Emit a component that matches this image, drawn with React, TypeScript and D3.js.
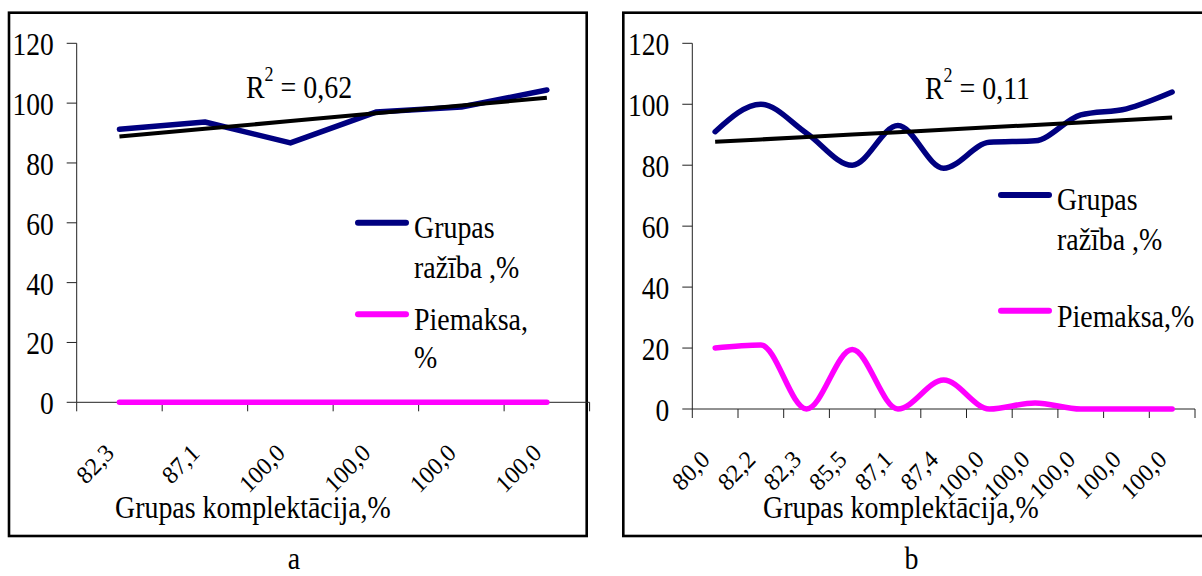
import React from 'react';
import * as d3 from 'd3';

// panel a
const catsA = ['82,3', '87,1', '100,0', '100,0', '100,0', '100,0'];
const yieldA = [91.3, 93.7, 86.7, 97, 98.7, 104.4];
const bonusA = [0, 0, 0, 0, 0, 0];

// panel b
const catsB = ['80,0', '82,2', '82,3', '85,5', '87,1', '87,4', '100,0', '100,0', '100,0', '100,0', '100,0'];
const yieldB = [91, 100, 90.5, 80, 93, 79, 87.5, 88, 96.5, 98.5, 104];
const bonusB = [20, 21, 0, 19.5, 0, 9.5, 0, 2, 0, 0, 0];

const yTicks = [0, 20, 40, 60, 80, 100, 120];
const xTitle = 'Grupas komplektācija,%';

const FONT = '"Liberation Serif", "Times New Roman", serif';
const BLUE = '#000080';
const MAGENTA = '#ff00ff';

const T = ({ x, y, size = 31, sx = 0.9, anchor = 'start', rotate = 0, children }: any) => (
  <text
    transform={`translate(${x},${y}) scale(${sx},1)${rotate ? ` rotate(${rotate})` : ''}`}
    fontSize={size}
    fontFamily={FONT}
    textAnchor={anchor}
    fill="#000"
  >
    {children}
  </text>
);

// least squares on category index, like Excel's linear trendline
function trend(vals: number[]) {
  const xs = vals.map((_, i) => i);
  const mx = d3.mean(xs)!, my = d3.mean(vals)!;
  const sxy = d3.sum(vals, (v, i) => (i - mx) * (v - my));
  const sxx = d3.sum(xs, (i) => (i - mx) ** 2);
  const slope = sxy / sxx;
  const b = my - slope * mx;
  const fit = xs.map((i) => b + slope * i);
  const ssr = d3.sum(fit, (f) => (f - my) ** 2);
  const sst = d3.sum(vals, (v) => (v - my) ** 2);
  return { fit, r2: ssr / sst };
}

function Panel({ p }: any) {
  const n = p.cats.length;
  const x = d3.scaleBand<number>().domain(d3.range(n)).range([p.x0, p.x1]);
  const y = d3.scaleLinear().domain([0, 120]).range([p.yBot, p.yTop]);
  const cx = (i: number) => x(i)! + x.bandwidth() / 2;

  const line = d3.line<number>()
    .x((_, i) => cx(i))
    .y((d) => y(d))
    .curve(p.smooth ? d3.curveMonotoneX : d3.curveLinear);

  const tr = trend(p.yieldV);
  const r2 = d3.format('.2f')(tr.r2).replace('.', ',');
  const trendLine = d3.line<number>().x((_, i) => cx(i)).y((d) => y(d));

  const tickXs = d3.range(n + 1).map((i) => p.x0 + i * x.bandwidth());

  return (
    <g>
      <rect x={p.fx0} y={p.fy0} width={p.fx1 - p.fx0} height={p.fy1 - p.fy0}
        fill="none" stroke="#000" strokeWidth={2.6} />

      {/* y axis */}
      <line x1={p.x0} x2={p.x0} y1={y(120)} y2={y(0)} stroke="#222" strokeWidth={1} />
      {yTicks.map((t) => (
        <g key={t}>
          <line x1={p.x0 - 10} x2={p.x0} y1={y(t)} y2={y(t)} stroke="#222" strokeWidth={1} />
          <T x={p.x0 - 23} y={y(t) + 12} size={32} sx={0.86} anchor="end">{t}</T>
        </g>
      ))}

      {/* x axis */}
      <line x1={p.x0} x2={p.x1} y1={y(0)} y2={y(0)} stroke="#222" strokeWidth={1} />
      {tickXs.map((tx, i) => (
        <line key={i} x1={tx} x2={tx} y1={y(0)} y2={y(0) + 9} stroke="#222" strokeWidth={1} />
      ))}
      {p.cats.map((c: string, i: number) => (
        <T key={i} x={cx(i) - 4} y={y(0) + 52} size={25} sx={0.95} anchor="end" rotate={-45}>{c}</T>
      ))}
      <T x={p.titleX} y={518}>{xTitle}</T>

      {/* series */}
      <path d={line(p.bonusV)!} fill="none" stroke={MAGENTA} strokeWidth={5.5}
        strokeLinecap="round" strokeLinejoin="round" />
      <path d={line(p.yieldV)!} fill="none" stroke={BLUE} strokeWidth={5.5}
        strokeLinecap="round" strokeLinejoin="round" />
      <path d={trendLine(tr.fit)!} fill="none" stroke="#000" strokeWidth={4} />

      {/* R squared */}
      <text fontSize={31} fontFamily={FONT} transform={`translate(${p.r2x},${p.r2y}) scale(0.9,1)`}>
        R<tspan fontSize={20} dy={-17}>2</tspan><tspan dy={17}>{` = ${r2}`}</tspan>
      </text>

      {/* legend */}
      <line x1={p.lgX} x2={p.lgX + 48} y1={p.lg1} y2={p.lg1} stroke={BLUE} strokeWidth={6} strokeLinecap="round" />
      <T x={p.lgX + 56} y={p.lg1 + 15}>Grupas</T>
      <T x={p.lgX + 56} y={p.lg1 + 55}>ražība ,%</T>
      <line x1={p.lgX} x2={p.lgX + 48} y1={p.lg2} y2={p.lg2} stroke={MAGENTA} strokeWidth={6} strokeLinecap="round" />
      {p.bonusSplit ? (
        <>
          <T x={p.lgX + 56} y={p.lg2 + 16}>Piemaksa,</T>
          <T x={p.lgX + 56} y={p.lg2 + 54}>%</T>
        </>
      ) : (
        <T x={p.lgX + 56} y={p.lg2 + 16}>Piemaksa,%</T>
      )}

      <T x={p.capX} y={569} anchor="middle">{p.cap}</T>
    </g>
  );
}

const panels = [
  {
    cats: catsA, yieldV: yieldA, bonusV: bonusA, smooth: false,
    fx0: 9, fy0: 12.7, fx1: 586.7, fy1: 536,
    x0: 76.7, x1: 589.6, yTop: 43.3, yBot: 402.3,
    titleX: 115, r2x: 246, r2y: 97.5,
    lgX: 358, lg1: 222.7, lg2: 314.3, bonusSplit: true,
    capX: 294, cap: 'a',
  },
  {
    cats: catsB, yieldV: yieldB, bonusV: bonusB, smooth: true,
    fx0: 623.3, fy0: 12.7, fx1: 1215, fy1: 536,
    x0: 692.3, x1: 1195, yTop: 43.3, yBot: 409,
    titleX: 763, r2x: 925, r2y: 99,
    lgX: 1001, lg1: 195, lg2: 310.7, bonusSplit: false,
    capX: 911.5, cap: 'b',
  },
];

export default function App() {
  return (
    <svg width={1202} height={576} style={{ position: 'absolute', left: 0, top: 0, background: '#fff' }}>
      <rect width={1202} height={576} fill="#fff" />
      {panels.map((p, i) => <Panel key={i} p={p} />)}
    </svg>
  );
}
